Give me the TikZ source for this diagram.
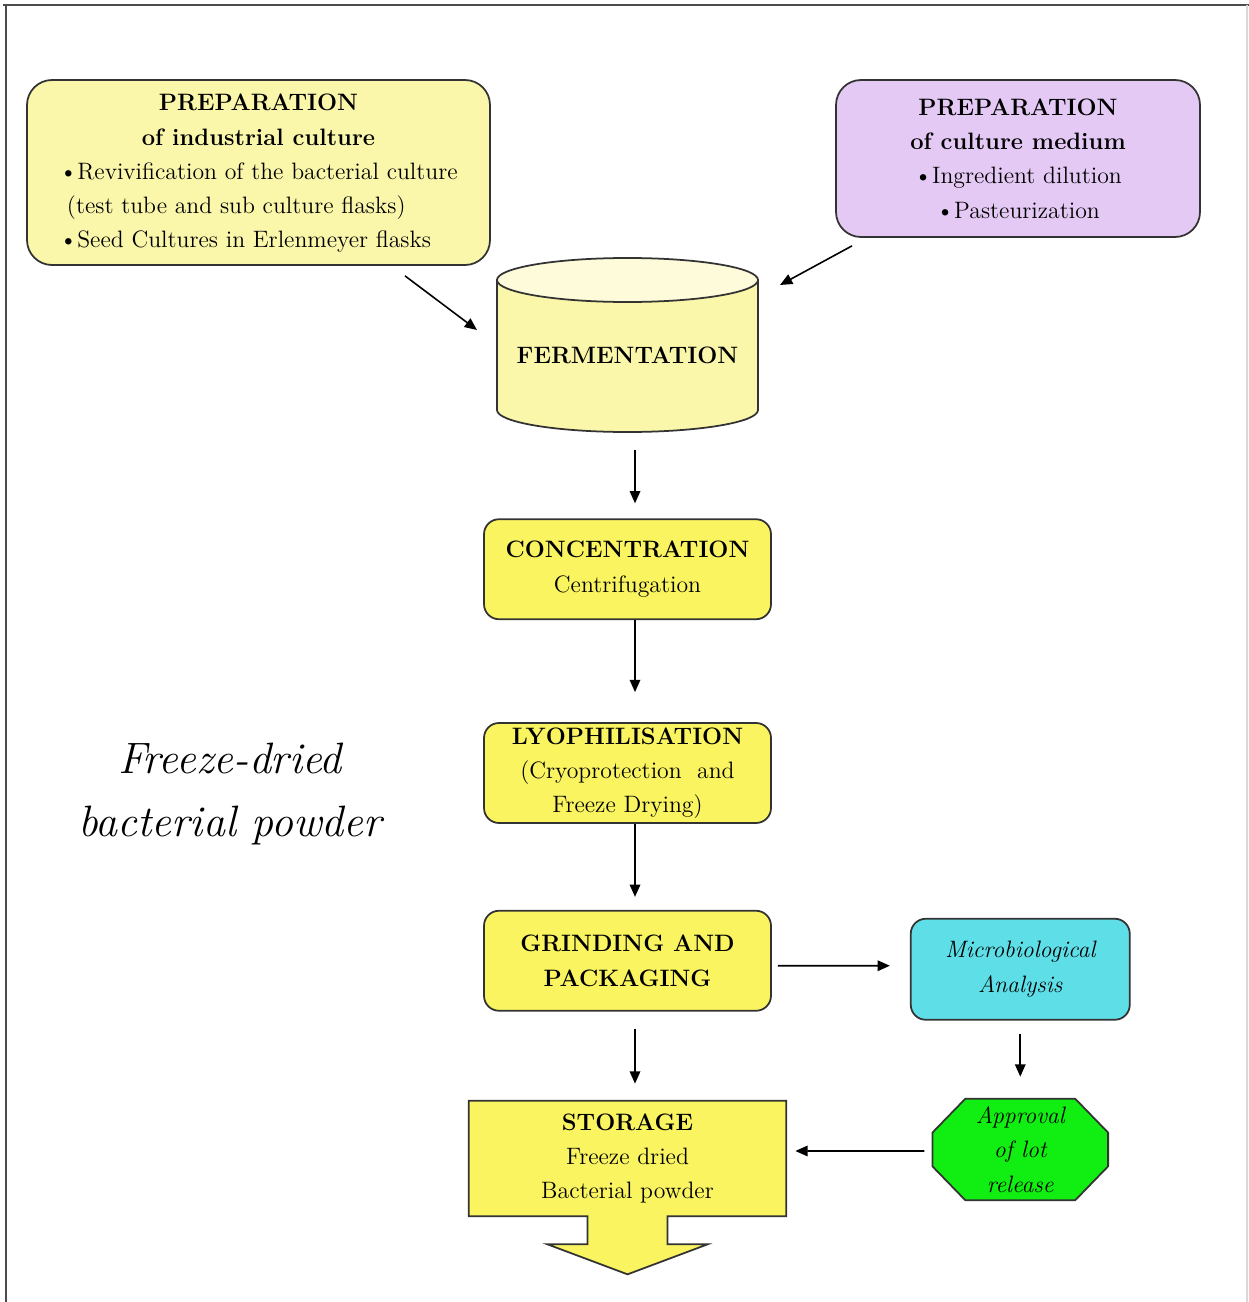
\documentclass[tikz,border=0pt]{standalone}
\usepackage{tikz}
\usetikzlibrary{arrows.meta,positioning,backgrounds}

\definecolor{paleyellow}{HTML}{FAF6AA}
\definecolor{stepyellow}{HTML}{F9F460}
\definecolor{lavender}{HTML}{E3C9F4}
\definecolor{aqua}{HTML}{5EDFE8}
\definecolor{lotgreen}{HTML}{11EE11}

\begin{document}
\begin{tikzpicture}[
  font=\fontsize{13.5}{19.5}\selectfont,
  box/.style={draw=black!80,line width=1pt,rounded corners=3mm,align=center,inner sep=2pt},
  stage/.style={box,fill=stepyellow,minimum width=5.74cm,minimum height=2cm},
  prep/.style={box,rounded corners=5mm},
  slanted/.style={font=\fontsize{13.5}{19.5}\selectfont\itshape},
  flow/.style={->,line width=0.9pt},
  >={Triangle[length=7pt,width=6pt]}]
\useasboundingbox (0,0) rectangle (24.98,-26.04);
% frame
\draw[black!70,line width=1.6pt] (0.06,-0.1) -- (24.98,-0.1);
\draw[black!70,line width=1.6pt] (0.12,-0.1) -- (0.12,-26.04);
\draw[black!15,line width=0.6pt] (24.94,-0.1) -- (24.94,-26.04);

\node[prep,fill=paleyellow,minimum width=9.26cm,minimum height=3.7cm] (ind) at (5.17,-3.45)
  {\begin{tabular}{@{}l@{}}
   \multicolumn{1}{@{}c@{}}{\textbf{PREPARATION}}\\
   \multicolumn{1}{@{}c@{}}{\textbf{of industrial culture}}\\
   \textbullet Revivification of the bacterial culture\\
   \ (test tube and sub culture flasks)\\
   \textbullet Seed Cultures in Erlenmeyer flasks
   \end{tabular}};
\node[prep,fill=lavender,minimum width=7.28cm,minimum height=3.14cm] (med) at (20.36,-3.17)
  {\textbf{PREPARATION}\\ \textbf{of culture medium}\\ \textbullet Ingredient dilution\\ \textbullet Pasteurization};

\node[minimum width=5.22cm,minimum height=3.08cm] (ferm) at (12.55,-7.1) {\textbf{FERMENTATION}};
\node[stage,below=1.72cm of ferm] (conc) {\textbf{CONCENTRATION}\\ Centrifugation};
\node[stage,below=2.04cm of conc] (lyo) {\textbf{LYOPHILISATION}\\ (Cryoprotection\ \ and\\ Freeze Drying)};
\node[stage,below=1.72cm of lyo] (grind) {\textbf{GRINDING AND}\\ \textbf{PACKAGING}};
\node[below=1.78cm of grind,minimum width=6.34cm,minimum height=2.3cm,align=center,inner sep=0pt] (store)
  {\textbf{STORAGE}\\ Freeze dried\\ Bacterial powder};
\node[box,slanted,fill=aqua,right=2.76cm of grind,yshift=-0.17cm,minimum width=4.38cm,minimum height=2.02cm] (micro)
  {Microbiological\\ Analysis};
\node[slanted,below=1.56cm of micro,minimum width=3.5cm,minimum height=2.02cm,align=center,inner sep=0pt] (appr)
  {Approval\\ of lot\\ release};

\node[font=\fontsize{25}{36}\selectfont\itshape,align=center] (powder) at (4.6,-15.88)
  {Freeze-dried\\ bacterial powder};

\begin{scope}[on background layer]
% fermenter tank
\filldraw[fill=paleyellow,draw=black!80,line width=1pt]
  ([shift={(-2.61,1.5)}]ferm.center) -- ([shift={(-2.61,-1.1)}]ferm.center)
  arc[start angle=180,end angle=360,x radius=2.61,y radius=0.44]
  -- ([shift={(2.61,1.5)}]ferm.center) -- cycle;
\filldraw[fill=paleyellow!45!white,draw=black!80,line width=1pt]
  ([yshift=1.5cm]ferm.center) ellipse[x radius=2.61,y radius=0.44];
% storage block arrow
\filldraw[fill=stepyellow,draw=black!80,line width=1pt]
  (store.north west) -- (store.north east) -- (store.south east)
  -- ([xshift=.8cm]store.south) -- ([shift={(.8,-.56)}]store.south)
  -- ([shift={(1.6,-.56)}]store.south) -- ([yshift=-1.16cm]store.south)
  -- ([shift={(-1.6,-.56)}]store.south) -- ([shift={(-.8,-.56)}]store.south)
  -- ([xshift=-.8cm]store.south) -- (store.south west) -- cycle;
% approval octagon
\filldraw[fill=lotgreen,draw=black!80,line width=1pt]
  ([xshift=.66cm]appr.north west) -- ([xshift=-.66cm]appr.north east)
  -- ([yshift=-.68cm]appr.north east) -- ([yshift=.68cm]appr.south east)
  -- ([xshift=-.66cm]appr.south east) -- ([xshift=.66cm]appr.south west)
  -- ([yshift=.68cm]appr.south west) -- ([yshift=-.68cm]appr.north west) -- cycle;
\end{scope}

\draw[flow] ([shift={(2.93,-0.2)}]ind.south) -- ([shift={(-3.01,0.5)}]ferm.center);
\draw[flow] ([shift={(-3.32,-0.16)}]med.south) -- ([shift={(3.05,1.4)}]ferm.center);
\draw[flow] ([shift={(.15,-1.9)}]ferm.center) -- ([shift={(.15,.3)}]conc.north);
\draw[flow] ([xshift=.15cm]conc.south) -- ([shift={(.15,.6)}]lyo.north);
\draw[flow] ([xshift=.15cm]lyo.south) -- ([shift={(.15,.26)}]grind.north);
\draw[flow] ([shift={(.15,-.34)}]grind.south) -- ([shift={(.15,.34)}]store.north);
\draw[flow] ([shift={(.12,-.1)}]grind.east) -- ([shift={(-.4,.07)}]micro.west);
\draw[flow] ([yshift=-.26cm]micro.south) -- ([yshift=.44cm]appr.north);
\draw[flow] ([shift={(-.16,-.03)}]appr.west) -- ([shift={(.18,.15)}]store.east);
\end{tikzpicture}
\end{document}
